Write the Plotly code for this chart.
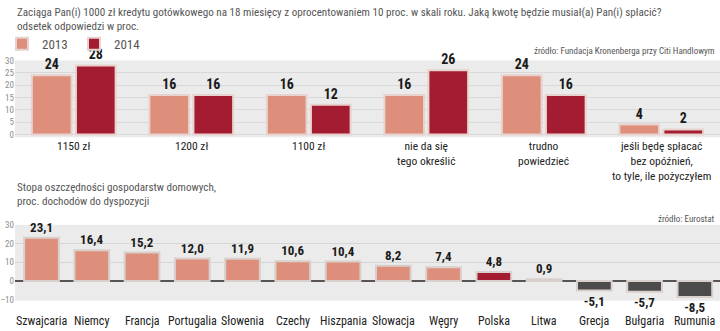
import plotly.graph_objects as go

# ---- data: top chart ----
answers = ["1150 zł", "1200 zł", "1100 zł", "nie da się<br>tego określić", "trudno<br>powiedzieć",
           "jeśli będę spłacać<br>bez opóźnień,<br>to tyle, ile pożyczyłem"]
y2013 = [24, 16, 16, 16, 24, 4]
y2014 = [28, 16, 12, 26, 16, 2]
top_ticks = [0, 5, 10, 15, 20, 25, 30]

# ---- data: bottom chart ----
countries = ["Szwajcaria", "Niemcy", "Francja", "Portugalia", "Słowenia", "Czechy", "Hiszpania",
             "Słowacja", "Węgry", "Polska", "Litwa", "Grecja", "Bułgaria", "Rumunia"]
savings = [23.1, 16.4, 15.2, 12.0, 11.9, 10.6, 10.4, 8.2, 7.4, 4.8, 0.9, -5.1, -5.7, -8.5]
bottom_ticks = [-10, 0, 10, 20, 30]

SALMON = "#de8f7b"
DARKRED = "#a31c32"
DARKGRAY = "#4b4b4b"
BORDER = "#e7d2cd"
BG = "#ebebeb"
FONT = "Roboto Condensed, Roboto, sans-serif"
W, H = 720, 331

def py(px):
    return 1 - px / H

bar_colors = []
for c, v in zip(countries, savings):
    if v < 0:
        bar_colors.append(DARKGRAY)
    elif c == "Polska":
        bar_colors.append(DARKRED)
    elif c == "Litwa":
        bar_colors.append("#ffffff")
    else:
        bar_colors.append(SALMON)

fig = go.Figure()
vfont = dict(family=FONT, size=14, color="#1a1a1a", weight="bold")

fig.add_trace(go.Bar(x=answers, y=y2013, name="2013", marker=dict(color=SALMON, line=dict(color=BORDER, width=2)),
                     text=y2013, textposition="outside", textfont=vfont, cliponaxis=False,
                     xaxis="x", yaxis="y"))
fig.add_trace(go.Bar(x=answers, y=y2014, name="2014", marker=dict(color=DARKRED, line=dict(color=BORDER, width=2)),
                     text=y2014, textposition="outside", textfont=vfont, cliponaxis=False,
                     xaxis="x", yaxis="y"))
fig.add_trace(go.Bar(x=countries, y=savings, showlegend=False,
                     marker=dict(color=bar_colors, line=dict(color="#d9cfcc", width=2)),
                     texttemplate="%{y:.1f}", textposition="outside",
                     textfont=dict(family=FONT, size=13, color="#1a1a1a", weight="bold"), cliponaxis=False,
                     xaxis="x2", yaxis="y2", width=0.69))

tickfont = dict(family=FONT, size=9, color="#8c8c8c")
fig.update_layout(
    width=W, height=H, margin=dict(l=0, r=0, t=0, b=0),
    paper_bgcolor="white", plot_bgcolor=BG, separators=",.",
    barmode="group", bargap=0.25, bargroupgap=0.1,
    font=dict(family=FONT),
    xaxis=dict(domain=[15 / W, 1], showticklabels=False, showgrid=False, zeroline=False, fixedrange=True),
    yaxis=dict(domain=[py(136), py(57)], range=[-1.18, 30], tickvals=top_ticks, showgrid=True,
               gridcolor="#d9d9d9", gridwidth=1, zeroline=False, tickfont=tickfont, ticks=""),
    xaxis2=dict(domain=[15 / W, 1], showticklabels=False, showgrid=False, zeroline=False, anchor="y2"),
    yaxis2=dict(domain=[py(304), py(226)], range=[-10.5, 30], tickvals=bottom_ticks, showgrid=True,
                gridcolor="#d6d6d6", zeroline=True, zerolinecolor="#555555", zerolinewidth=1.5,
                tickfont=tickfont, ticks="", anchor="x2"),
    legend=dict(orientation="h", x=2 / W, y=py(40), xanchor="left", yanchor="middle",
                font=dict(family=FONT, size=13, color="#555555"), itemwidth=30,
                entrywidth=27, entrywidthmode="pixels", bgcolor="rgba(0,0,0,0)"),
    showlegend=True,
)

# titles
tfont = dict(family=FONT, size=11.1, color="#555555")
for txt, y in [("Zaciąga Pan(i) 1000 zł kredytu gotówkowego na 18 miesięcy z oprocentowaniem 10 proc. w skali roku. "
                "Jaką kwotę będzie musiał(a) Pan(i) spłacić?", 8),
               ("odsetek odpowiedzi w proc.", 22),
               ("Stopa oszczędności gospodarstw domowych,", 188),
               ("proc. dochodów do dyspozycji", 202)]:
    fig.add_annotation(text=txt, x=15 / W, y=py(y), xref="paper", yref="paper", xanchor="left",
                       yanchor="middle", showarrow=False, font=tfont)
sfont = dict(family=FONT, size=9, color="#555555")
fig.add_annotation(text="źródło: Fundacja Kronenberga przy Citi Handlowym", x=717 / W, y=py(47), xref="paper",
                   yref="paper", xanchor="right", yanchor="middle", showarrow=False, font=sfont)
fig.add_annotation(text="źródło: Eurostat", x=717 / W, y=py(220), xref="paper",
                   yref="paper", xanchor="right", yanchor="middle", showarrow=False, font=sfont)

# category labels
cfont = dict(family=FONT, size=11.5, color="#222222")
for a in answers:
    fig.add_annotation(text=a, x=a, y=py(137), xref="x", yref="paper", xanchor="center",
                       yanchor="top", showarrow=False, font=cfont, borderpad=0)
for c in countries:
    fig.add_annotation(text=c, x=c, y=py(325), xref="x2", yref="paper", xanchor="center",
                       yanchor="middle", showarrow=False, borderpad=0,
                       font=dict(family=FONT, size=12, color="#222222"))

fig.write_html("out.html")
